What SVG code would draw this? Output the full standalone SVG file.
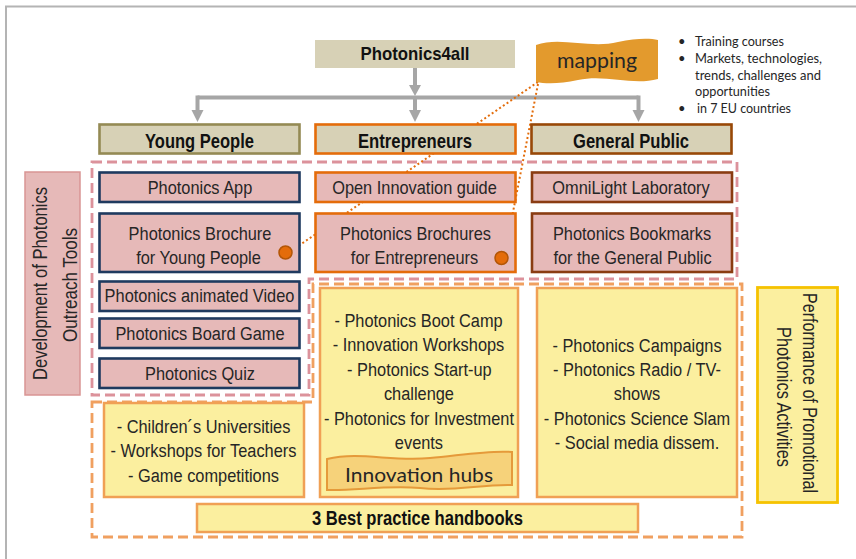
<svg xmlns="http://www.w3.org/2000/svg" width="856" height="559" viewBox="0 0 856 559">
<style>
.t{font-family:"Liberation Sans",Arial,sans-serif;font-size:18.5px;fill:#262626;text-anchor:middle}
.h{font-family:"Liberation Sans",Arial,sans-serif;font-size:21px;font-weight:bold;fill:#111;text-anchor:middle}
.c{font-family:Lato,"Open Sans",sans-serif;fill:#262626}
.pk{fill:#e6b9b8;stroke-width:2.6}
.yp{stroke:#1f3a5f}
.en{stroke:#e46c0a}
.gp{stroke:#8a3c12}
.hd{fill:#d7d1b6;stroke-width:2.6}
.yl{fill:#fbef9f;stroke:#f0a055;stroke-width:2.5}
.dot{fill:#e46c0a;stroke:#b35607;stroke-width:1.5}
</style>
<rect width="856" height="559" fill="#fff"/>
<path d="M6,559 V6.5 H856" fill="none" stroke="#b4b4b4" stroke-width="2"/>

<g id="regions" fill="none" stroke-width="2.8" stroke-dasharray="10 5">
<path d="M92,162 H737 V279 H309 V395 H92 Z" stroke="#dc929b"/>
<path d="M92,402 H313 V284 H742 V537 H92 Z" stroke="#f0a060"/>
</g>

<g id="connectors">
<g stroke="#a6a6a6" stroke-width="4" fill="none">
<path d="M415,68 V87"/>
<path d="M197.5,97.5 H638.5"/>
<path d="M197.5,95.5 V112"/>
<path d="M415,97 V112"/>
<path d="M638.5,95.5 V112"/>
</g>
<g fill="#a6a6a6">
<polygon points="409,85 421,85 415,96"/>
<polygon points="191.5,110 203.5,110 197.5,122"/>
<polygon points="409,110 421,110 415,122"/>
<polygon points="632.5,110 644.5,110 638.5,122"/>
</g>
<g stroke="#e36c0a" stroke-width="2" stroke-dasharray="2 2.5" fill="none">
<path d="M538,82 L291,251"/>
<path d="M538,84 L505,253"/>
</g>
</g>

<g id="photonics4all">
<rect x="315" y="40" width="200" height="28" fill="#d7d1b6"/>
<text class="h" x="415" y="60" style="font-size:19px" textLength="109" lengthAdjust="spacingAndGlyphs">Photonics4all</text>
</g>

<g id="mapping">
<path d="M536,45 C560,36 590,49 618,42 C636,38 650,38 658,40 L658,79 C632,86 606,74 578,80 C560,84 546,84 536,82 Z" fill="#e39a2d"/>
<text class="c" x="597" y="68" font-size="21" text-anchor="middle" textLength="80" lengthAdjust="spacingAndGlyphs" fill="#333">mapping</text>
</g>

<g id="notes" class="c" font-size="13">
<text x="678" y="46">•</text><text x="695" y="46" textLength="89" lengthAdjust="spacingAndGlyphs">Training courses</text>
<text x="678" y="63">•</text><text x="695" y="63" textLength="127" lengthAdjust="spacingAndGlyphs">Markets, technologies,</text>
<text x="695" y="79.5" textLength="126" lengthAdjust="spacingAndGlyphs">trends, challenges and</text>
<text x="695" y="96" textLength="75" lengthAdjust="spacingAndGlyphs">opportunities</text>
<text x="678" y="113">•</text><text x="697" y="113" textLength="94" lengthAdjust="spacingAndGlyphs">in 7 EU countries</text>
</g>

<g id="young-people">
<rect class="hd" x="99.5" y="124.5" width="200" height="29" stroke="#948a54"/>
<text class="h" x="199.5" y="148" textLength="109" lengthAdjust="spacingAndGlyphs">Young People</text>
</g>
<g id="entrepreneurs">
<rect class="hd" x="315.5" y="124.5" width="200" height="29" stroke="#e46c0a"/>
<text class="h" x="415" y="148" textLength="114" lengthAdjust="spacingAndGlyphs">Entrepreneurs</text>
</g>
<g id="general-public">
<rect class="hd" x="531.5" y="124.5" width="200" height="29" stroke="#984807"/>
<text class="h" x="631" y="148" textLength="116" lengthAdjust="spacingAndGlyphs">General Public</text>
</g>

<g id="dev-label">
<rect x="25" y="172" width="55" height="223" fill="#e6b9b8" stroke="#d99594" stroke-width="1.5"/>
<text class="t" transform="translate(47,283.5) rotate(-90)" x="0" y="0" style="font-size:20px" textLength="193" lengthAdjust="spacingAndGlyphs">Development of Photonics</text>
<text class="t" transform="translate(77,285) rotate(-90)" x="0" y="0" style="font-size:20px" textLength="114" lengthAdjust="spacingAndGlyphs">Outreach Tools</text>
</g>

<g id="photonics-app">
<rect class="pk yp" x="99.5" y="172.5" width="200" height="29.5"/>
<text class="t" transform="translate(200,0) scale(.885 1)" x="0" y="194">Photonics App</text>
</g>
<g id="brochure-young">
<rect class="pk yp" x="99.5" y="213.5" width="200" height="58.5"/>
<text class="t" transform="translate(200,0) scale(.885 1)" x="0" y="240">Photonics Brochure</text>
<text class="t" transform="translate(198.5,0) scale(.885 1)" x="0" y="264.5">for Young People</text>
<circle class="dot" cx="285.5" cy="252.5" r="6.5"/>
</g>
<g id="animated-video">
<rect class="pk yp" x="99.5" y="281.5" width="200" height="29.5"/>
<text class="t" transform="translate(199.5,0) scale(.885 1)" x="0" y="302.5">Photonics animated Video</text>
</g>
<g id="board-game">
<rect class="pk yp" x="99.5" y="318.5" width="200" height="29.5"/>
<text class="t" transform="translate(200,0) scale(.885 1)" x="0" y="340">Photonics Board Game</text>
</g>
<g id="quiz">
<rect class="pk yp" x="99.5" y="358.5" width="200" height="29.5"/>
<text class="t" transform="translate(200,0) scale(.885 1)" x="0" y="380">Photonics Quiz</text>
</g>

<g id="open-innovation">
<rect class="pk en" x="315.5" y="172.5" width="200" height="29.5"/>
<text class="t" transform="translate(414.5,0) scale(.885 1)" x="0" y="194">Open Innovation guide</text>
</g>
<g id="brochure-entrepreneurs">
<rect class="pk en" x="315.5" y="213.5" width="200" height="58.5"/>
<text class="t" transform="translate(415.5,0) scale(.885 1)" x="0" y="240">Photonics Brochures</text>
<text class="t" transform="translate(414.5,0) scale(.885 1)" x="0" y="264.5">for Entrepreneurs</text>
<circle class="dot" cx="501.5" cy="258" r="6.5"/>
</g>

<g id="omnilight">
<rect class="pk gp" x="532" y="172.5" width="200" height="29.5"/>
<text class="t" transform="translate(631,0) scale(.885 1)" x="0" y="194">OmniLight Laboratory</text>
</g>
<g id="bookmarks">
<rect class="pk gp" x="532" y="213.5" width="200" height="58.5"/>
<text class="t" transform="translate(632,0) scale(.885 1)" x="0" y="240">Photonics Bookmarks</text>
<text class="t" transform="translate(632.5,0) scale(.885 1)" x="0" y="264.5">for the General Public</text>
</g>

<g id="entrepreneur-activities">
<rect class="yl" x="320" y="288" width="198" height="209"/>
<g class="t" transform="translate(418.5,0) scale(.885 1)">
<text x="0" y="327">- Photonics Boot Camp</text>
<text x="0" y="351.5">- Innovation Workshops</text>
<text x="1" y="376">- Photonics Start-up</text>
<text x="0.5" y="400">challenge</text>
<text x="0.5" y="425">- Photonics for Investment</text>
<text x="0.5" y="449">events</text>
</g>
</g>
<g id="innovation-hubs">
<path d="M327,459 C360,451 392,462 430,458 C462,455 490,450 512,452 L512,485 C480,484 455,492 420,488 C385,485 355,491 327,490 Z" fill="#f6d27a" stroke="#e59a3a" stroke-width="2"/>
<text class="c" x="419" y="482" font-size="20" text-anchor="middle" textLength="148" lengthAdjust="spacingAndGlyphs" fill="#222">Innovation hubs</text>
</g>

<g id="public-activities">
<rect class="yl" x="537" y="288" width="200" height="209"/>
<g class="t" transform="translate(637,0) scale(.885 1)">
<text x="0" y="352">- Photonics Campaigns</text>
<text x="0" y="376">- Photonics Radio / TV-</text>
<text x="0" y="400">shows</text>
<text x="0" y="425">- Photonics Science Slam</text>
<text x="0" y="449.5">- Social media dissem.</text>
</g>
</g>

<g id="young-activities">
<rect class="yl" x="104" y="403" width="200" height="94"/>
<g class="t" transform="translate(203.5,0) scale(.885 1)">
<text x="0" y="433">- Children´s Universities</text>
<text x="0" y="457.5">- Workshops for Teachers</text>
<text x="0" y="482">- Game competitions</text>
</g>
</g>

<g id="handbooks">
<rect class="yl" x="197" y="504" width="441" height="28"/>
<text class="h" x="417.5" y="525" style="font-size:20px" textLength="211" lengthAdjust="spacingAndGlyphs">3 Best practice handbooks</text>
</g>

<g id="performance-label">
<rect x="757.5" y="287.5" width="80" height="215" fill="#fbef9f" stroke="#f5c200" stroke-width="2.8"/>
<text class="t" transform="translate(803,393) rotate(90)" x="0" y="0" style="font-size:19.5px" textLength="200" lengthAdjust="spacingAndGlyphs">Performance of Promotional</text>
<text class="t" transform="translate(777,397) rotate(90)" x="0" y="0" style="font-size:19.5px" textLength="140" lengthAdjust="spacingAndGlyphs">Photonics Activities</text>
</g>
</svg>
